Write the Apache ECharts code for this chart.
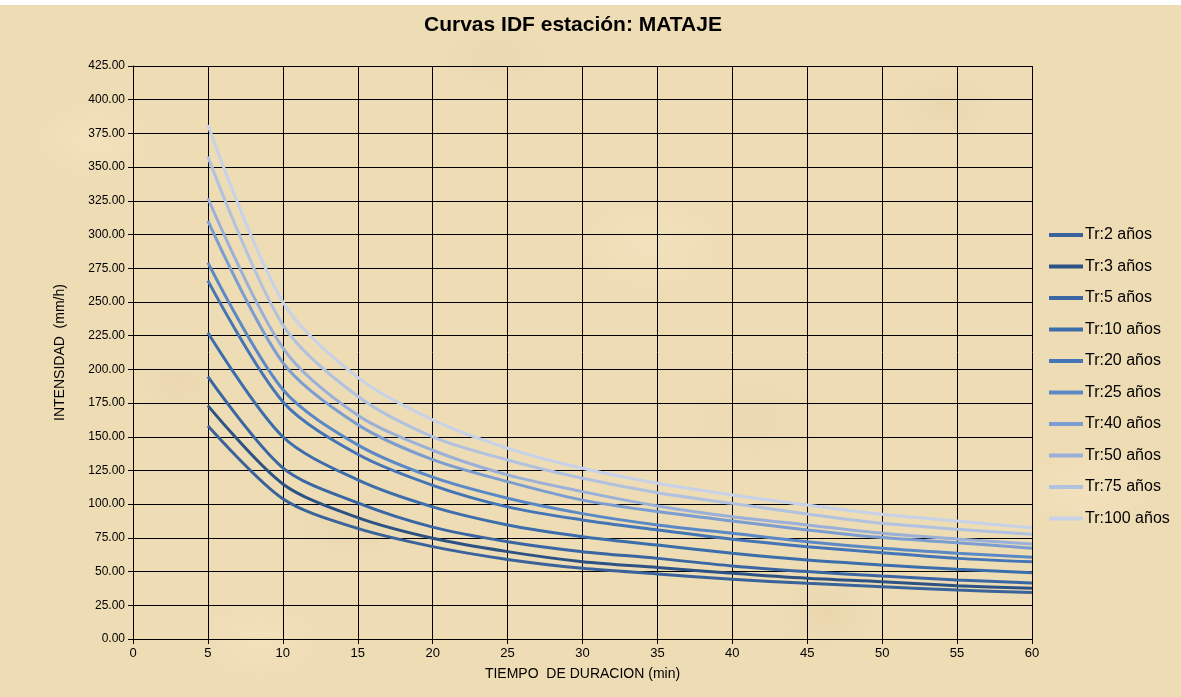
<!DOCTYPE html>
<html>
<head>
<meta charset="utf-8">
<title>Curvas IDF estación: MATAJE</title>
<script src="https://cdn.jsdelivr.net/npm/echarts@6/dist/echarts.min.js"></script>
<style>
  html, body { margin: 0; padding: 0; }
  body {
    width: 1181px; height: 697px; overflow: hidden;
    background-color: #eedcb5;
    background-image:
      radial-gradient(ellipse 90px 60px at 8% 20%, rgba(250,236,200,0.35), rgba(250,236,200,0) 70%),
      radial-gradient(ellipse 80px 50px at 30% 75%, rgba(214,190,140,0.18), rgba(214,190,140,0) 70%),
      radial-gradient(ellipse 110px 70px at 55% 35%, rgba(250,238,205,0.3), rgba(250,238,205,0) 70%),
      radial-gradient(ellipse 70px 50px at 80% 15%, rgba(218,195,148,0.18), rgba(218,195,148,0) 70%),
      radial-gradient(ellipse 100px 60px at 92% 70%, rgba(250,236,200,0.3), rgba(250,236,200,0) 70%),
      radial-gradient(ellipse 70px 50px at 70% 88%, rgba(212,188,138,0.18), rgba(212,188,138,0) 70%),
      radial-gradient(ellipse 60px 40px at 15% 55%, rgba(220,196,150,0.18), rgba(220,196,150,0) 70%),
      radial-gradient(ellipse 80px 50px at 42% 8%, rgba(220,198,152,0.18), rgba(220,198,152,0) 70%),
      radial-gradient(ellipse 90px 60px at 22% 92%, rgba(250,236,200,0.3), rgba(250,236,200,0) 70%),
      radial-gradient(ellipse 90px 60px at 64% 60%, rgba(218,196,150,0.15), rgba(218,196,150,0) 70%);
  }
  #top-edge { position: absolute; left: 0; top: 0; width: 1181px; height: 5px; background: #ffffff; }
  #chart { position: absolute; left: 0; top: 0; width: 1181px; height: 697px; }
</style>
</head>
<body>
<div id="top-edge"></div>
<div id="chart"></div>
<script>
// Duración de la lluvia (min)
const duraciones = [5, 10, 15, 20, 25, 30, 35, 40, 45, 50, 55, 60];

// Intensidad (mm/h) por periodo de retorno
const tr2   = [158.2, 104.0,  82.0,  68.5,  59.0,  52.4,  48.3,  44.3,  41.3,  38.8,  36.3,  34.4];
const tr3   = [173.1, 115.0,  90.0,  74.7,  64.8,  57.3,  53.0,  48.7,  45.0,  42.5,  39.5,  37.6];
const tr5   = [194.6, 127.0, 101.0,  83.0,  72.2,  64.8,  59.8,  54.2,  50.0,  46.7,  43.8,  41.5];
const tr10  = [227.2, 150.0, 118.0,  98.0,  84.6,  75.9,  69.7,  63.6,  58.6,  54.9,  51.7,  49.2];
const tr20  = [265.8, 176.0, 137.0, 114.0,  98.0,  88.3,  80.9,  74.0,  68.5,  64.0,  59.8,  57.3];
const tr25  = [279.2, 185.0, 144.0, 120.0, 104.4,  93.0,  84.6,  78.4,  72.2,  67.3,  63.6,  60.6];
const tr40  = [310.1, 205.0, 159.0, 133.0, 116.7, 103.0,  94.5,  87.5,  80.9,  75.2,  71.4,  67.3];
const tr50  = [326.9, 216.0, 166.0, 140.0, 121.7, 109.3,  98.7,  90.7,  84.6,  78.4,  74.2,  70.5];
const tr75  = [357.8, 233.0, 180.0, 150.0, 132.8, 119.2, 108.5, 100.6,  92.7,  85.8,  81.4,  77.7];
const tr100 = [381.3, 250.0, 194.0, 162.5, 141.5, 126.6, 115.5, 106.8,  99.4,  92.5,  87.5,  82.6];

const nombres = ['Tr:2 años', 'Tr:3 años', 'Tr:5 años', 'Tr:10 años', 'Tr:20 años',
                 'Tr:25 años', 'Tr:40 años', 'Tr:50 años', 'Tr:75 años', 'Tr:100 años'];
const valores = [tr2, tr3, tr5, tr10, tr20, tr25, tr40, tr50, tr75, tr100];
const colores = ['#39639a', '#2c5384', '#3a67a3', '#3d6eac', '#4475b6',
                 '#5b89c6', '#7b9dd0', '#9ab0d8', '#b0c2e0', '#c7d2e8'];

const fuente = "'Liberation Sans Narrow', 'Arial Narrow', 'Liberation Sans', Arial, sans-serif";

const chart = echarts.init(document.getElementById('chart'), null, { renderer: 'canvas' });

const series = nombres.map((nombre, i) => ({
  name: nombre,
  type: 'line',
  data: duraciones.map((d, j) => [d, valores[i][j]]),
  smooth: 0.3,
  symbol: 'none',
  lineStyle: { width: 3, color: colores[i] },
  itemStyle: { color: colores[i] },
  z: 3 + i
}));

chart.setOption({
  backgroundColor: 'transparent',
  animation: false,
  textStyle: { fontFamily: fuente },
  title: {
    text: 'Curvas IDF estación: MATAJE',
    left: 568, textAlign: 'center', top: 10,
    textStyle: { fontFamily: fuente, fontWeight: 'bold', fontSize: 21, color: '#000' }
  },
  legend: {
    orient: 'vertical',
    left: 1044, top: 222,
    itemWidth: 34, itemHeight: 4,
    itemGap: 15.5,
    icon: 'rect',
    data: nombres,
    textStyle: { fontFamily: fuente, fontSize: 16, color: '#000', padding: [0, 0, 0, -3] }
  },
  grid: { left: 133, right: 149, top: 66, bottom: 58 },
  xAxis: {
    type: 'value',
    min: 0, max: 60, interval: 5,
    name: 'TIEMPO  DE DURACION (min)',
    nameLocation: 'middle', nameGap: 28,
    nameTextStyle: { fontFamily: fuente, fontSize: 14, color: '#000' },
    axisLine: { show: true, onZero: false, lineStyle: { color: '#000', width: 1 } },
    axisTick: { show: true, length: 5, lineStyle: { color: '#000' } },
    axisLabel: { fontFamily: fuente, fontSize: 13, color: '#000', margin: 8 },
    splitLine: { show: true, lineStyle: { color: '#000', width: 1 } }
  },
  yAxis: {
    type: 'value',
    min: 0, max: 425, interval: 25,
    name: 'INTENSIDAD  (mm/h)',
    nameLocation: 'middle', nameGap: 66, nameRotate: 90,
    nameTextStyle: { fontFamily: fuente, fontSize: 14, color: '#000' },
    axisLine: { show: true, lineStyle: { color: '#000', width: 1 } },
    axisTick: { show: true, length: 5, lineStyle: { color: '#000' } },
    axisLabel: { fontFamily: fuente, fontSize: 12, color: '#000', margin: 8,
                 formatter: v => v.toFixed(2) },
    splitLine: { show: true, lineStyle: { color: '#000', width: 1 } }
  },
  series: series
});
</script>
</body>
</html>
